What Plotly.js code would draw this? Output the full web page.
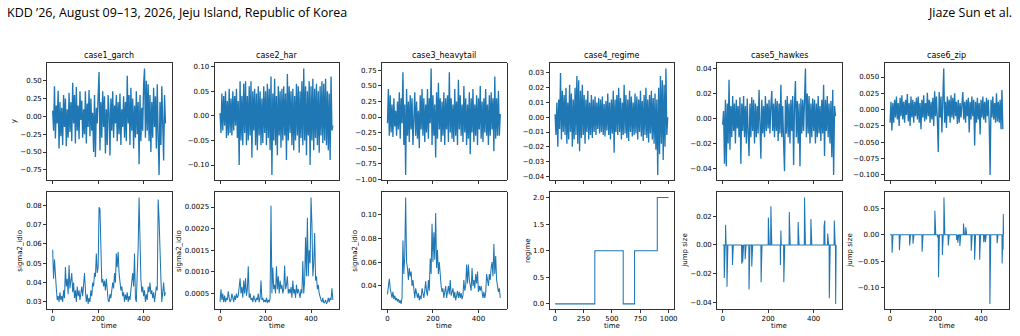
<!DOCTYPE html>
<html>
<head>
<meta charset="utf-8">
<script src="https://cdn.plot.ly/plotly-3.0.1.min.js"></script>
<style>
  html, body { margin: 0; padding: 0; background: #fff; }
  #chart { width: 1020px; height: 336px; }
</style>
</head>
<body>
<div id="chart"></div>
<script>
// ---------- series (top row: observed y; bottom row: latent state) ----------
const caseNames = ["case1_garch", "case2_har", "case3_heavytail", "case4_regime", "case5_hawkes", "case6_zip"];
const seriesLength = 500;
const regimeLength = 1000;
const sampleStep = 4;        // y samples every 4 time steps
const regimeSampleStep = 8;  // case4 y samples every 8 time steps

const garchY = [
  0.08, -0.2, 0.42, -0.31, 0.15, -0.1, 0.36, -0.45, 0.2, -0.28,
  0.12, -0.4, 0.3, -0.15, 0.25, -0.42, 0.1, -0.3, 0.33, -0.22,
  0.2, -0.35, 0.47, -0.1, 0.3, -0.38, 0.41, -0.2, 0.15, -0.32,
  0.35, -0.05, 0.22, -0.3, 0.1, -0.25, 0.35, -0.38, 0.18, -0.15,
  0.37, -0.28, 0.25, -0.2, 0.05, -0.5, 0.3, -0.57, 0.12, -0.1,
  0.3, 0.62, -0.48, 0.2, -0.3, 0.35, -0.15, 0.28, -0.52, 0.1,
  -0.4, 0.3, 0.05, -0.55, 0.25, -0.2, 0.35, -0.3, 0.15, -0.1,
  0.3, -0.35, 0.2, -0.25, 0.32, -0.4, 0.1, -0.15, 0.28, -0.3,
  0.2, -0.35, 0.57, -0.1, 0.3, -0.4, 0.4, -0.2, 0.25, -0.45,
  0.15, -0.3, 0.35, -0.25, 0.2, -0.67, 0.3, -0.35, 0.12, -0.2,
  0.45, 0.67, -0.3, 0.5, -0.2, 0.45, -0.35, 0.3, -0.5, 0.2,
  -0.3, 0.4, -0.15, 0.28, -0.45, 0.45, -0.3, -0.82, 0.2, -0.4,
  0.42, -0.2, -0.62, 0.3, -0.1
];
const harY = [
  0.005, -0.035, 0.045, -0.03, 0.04, -0.02, 0.05, -0.045, 0.03, -0.04,
  0.055, -0.035, 0.035, -0.04, 0.05, -0.03, 0.04, -0.02, 0.055, -0.045,
  0.03, -0.1, 0.07, -0.05, 0.04, -0.06, 0.065, -0.035, 0.07, -0.06,
  0.04, -0.05, 0.06, -0.04, 0.07, -0.085, 0.05, -0.03, 0.055, -0.06,
  0.045, -0.07, 0.06, -0.04, 0.05, -0.06, 0.035, -0.055, 0.06, -0.035,
  0.05, -0.06, 0.065, -0.045, 0.055, -0.07, 0.08, -0.12, 0.045, -0.05,
  0.075, -0.06, 0.04, -0.08, 0.06, -0.04, 0.05, -0.065, 0.055, -0.05,
  0.06, -0.04, 0.045, -0.09, 0.085, -0.05, 0.06, -0.035, 0.05, -0.06,
  0.055, -0.07, 0.04, -0.05, 0.065, -0.04, 0.06, -0.075, 0.05, -0.045,
  0.07, -0.06, 0.096, -0.05, 0.06, -0.08, 0.05, -0.04, 0.07, -0.1,
  0.06, -0.05, 0.075, -0.07, 0.055, -0.045, 0.065, -0.06, 0.05, -0.075,
  0.06, -0.04, 0.07, -0.055, 0.065, -0.05, 0.075, -0.06, 0.05, -0.07,
  0.045, -0.09, 0.08, -0.03, -0.02
];
const heavytailY = [
  -0.1, 0.45, -0.3, 0.35, -0.25, 0.2, -0.32, 0.3, -0.15, 0.1,
  -0.3, 0.25, -0.2, 0.4, -0.35, 0.3, -0.1, 0.72, -0.45, 0.2,
  -0.93, 0.45, -0.3, 0.25, -0.4, 0.35, -0.2, 0.3, -0.45, 0.15,
  0.4, -0.3, 0.25, -0.35, 0.1, -0.5, 0.35, -0.2, 0.45, -0.3,
  0.3, -0.4, 0.2, -0.25, 0.45, -0.35, 0.3, -0.1, 0.78, -0.45,
  0.35, -0.3, 0.2, -0.65, 0.4, -0.35, 0.55, -0.2, 0.3, -0.4,
  0.25, -0.3, 0.4, -0.45, 0.3, -0.2, 0.35, -0.4, 0.72, -0.25,
  0.3, -0.35, 0.2, -0.4, 0.45, -0.3, 0.25, -0.45, 0.6, -0.2,
  0.35, -0.3, 0.2, -0.4, 0.5, -0.25, 0.3, -0.45, 0.2, -0.35,
  0.4, -0.6, 0.3, -0.25, 0.45, -0.4, 0.2, -0.3, 0.35, -0.45,
  0.3, -0.2, 0.5, -0.35, 0.25, -0.4, 0.3, -0.25, 0.45, -0.3,
  0.2, -0.45, 0.35, -0.3, 0.4, -0.2, 0.3, -0.55, 0.65, -0.35,
  0.3, -0.3, 0.42, -0.3, 0.05
];
const regimeY = [
  0.002, -0.012, 0.01, -0.02, 0.012, -0.008, 0.03, -0.015, 0.018, -0.01,
  0.015, -0.012, 0.02, -0.018, 0.01, -0.015, 0.022, -0.01, 0.016, -0.02,
  0.012, -0.015, 0.02, -0.012, 0.028, -0.018, 0.025, -0.023, 0.018, -0.014,
  0.022, -0.012, 0.015, -0.018, 0.012, -0.01, 0.018, -0.015, 0.01, -0.012,
  0.015, -0.014, 0.012, -0.01, 0.014, -0.012, 0.01, -0.008, 0.013, -0.011,
  0.012, -0.01, 0.014, -0.012, 0.009, -0.013, 0.011, -0.009, 0.016, -0.012,
  0.01, -0.015, 0.012, -0.011, 0.018, -0.024, 0.012, -0.01, 0.015, -0.012,
  0.02, -0.01, 0.013, -0.015, 0.01, -0.012, 0.022, -0.011, 0.015, -0.014,
  0.012, -0.016, 0.018, -0.01, 0.014, -0.013, 0.01, -0.012, 0.016, -0.011,
  0.014, -0.015, 0.012, -0.01, 0.018, -0.013, 0.011, -0.016, 0.015, -0.012,
  0.02, -0.014, 0.012, -0.017, 0.015, -0.011, 0.018, -0.015, 0.013, -0.018,
  0.016, -0.022, 0.012, -0.039, 0.02, -0.025, 0.028, -0.018, 0.025, -0.029,
  0.022, -0.02, 0.033, -0.012, 0.0
];
const hawkesY = [
  -0.005, 0.006, -0.036, 0.015, -0.038, 0.012, -0.02, 0.031, -0.025, 0.01,
  -0.015, 0.018, -0.01, 0.012, -0.02, 0.015, -0.008, 0.01, -0.015, 0.017,
  -0.036, 0.012, -0.01, 0.018, -0.015, 0.01, -0.02, 0.016, -0.012, -0.03,
  0.012, -0.015, 0.017, -0.01, 0.015, -0.02, 0.012, -0.015, 0.01, -0.012,
  0.023, -0.01, -0.032, 0.015, -0.012, 0.01, -0.015, 0.018, -0.01, 0.012,
  -0.008, 0.015, -0.012, 0.01, 0.022, -0.01, 0.012, -0.015, 0.016, -0.01,
  0.014, -0.018, 0.012, -0.012, 0.027, -0.015, 0.01, -0.02, -0.042, 0.015,
  -0.012, 0.018, -0.015, 0.012, -0.02, 0.015, -0.01, 0.018, -0.037, 0.012,
  0.03, -0.015, 0.014, -0.02, 0.012, -0.038, 0.016, -0.012, 0.015, -0.01,
  0.018, 0.04, -0.015, 0.02, -0.012, 0.018, -0.02, 0.012, -0.015, 0.016,
  -0.01, 0.015, -0.02, 0.012, -0.015, 0.018, -0.012, 0.01, -0.018, 0.015,
  -0.012, 0.027, -0.03, 0.015, -0.01, 0.018, -0.015, 0.012, -0.02, 0.014,
  -0.031, 0.023, -0.045, 0.01, 0.002
];
const zipY = [
  -0.02, 0.012, -0.032, 0.01, -0.02, 0.015, -0.012, 0.02, -0.015, 0.01,
  -0.025, 0.018, -0.01, 0.022, -0.015, 0.012, -0.02, 0.015, -0.008, 0.024,
  -0.018, 0.01, -0.025, 0.02, -0.012, 0.015, -0.02, 0.012, -0.01, 0.018,
  -0.015, 0.02, -0.02, 0.01, -0.03, 0.015, -0.012, 0.022, -0.018, 0.01,
  -0.015, 0.026, -0.01, 0.015, -0.02, 0.012, -0.015, 0.018, -0.025, 0.028,
  -0.01, 0.02, -0.015, -0.065, 0.027, -0.012, 0.02, -0.035, 0.015, 0.063,
  -0.02, 0.012, -0.028, 0.02, -0.01, 0.015, -0.02, 0.022, -0.012, 0.018,
  -0.015, 0.025, -0.01, 0.012, -0.022, 0.015, -0.02, 0.01, -0.012, 0.02,
  0.027, -0.015, 0.012, -0.02, 0.015, -0.01, 0.018, -0.035, 0.012, -0.015,
  0.02, -0.01, 0.015, -0.055, 0.012, -0.02, 0.018, -0.015, 0.01, -0.038,
  0.015, -0.012, 0.02, -0.015, 0.012, -0.02, 0.018, -0.01, 0.015, -0.02,
  -0.1, 0.015, -0.012, 0.02, -0.015, 0.01, -0.02, 0.025, -0.018, 0.012,
  -0.02, 0.015, -0.03, 0.03, -0.03
];

const garchSigma2 = [
  0.057, 0.042, 0.052, 0.04, 0.037, 0.031, 0.033, 0.03, 0.035, 0.031,
  0.033, 0.03, 0.036, 0.032, 0.048, 0.038, 0.042, 0.034, 0.049, 0.037,
  0.041, 0.045, 0.035, 0.04, 0.032, 0.036, 0.03, 0.038, 0.033, 0.036,
  0.031, 0.034, 0.038, 0.033, 0.042, 0.045, 0.036, 0.03, 0.034, 0.029,
  0.032, 0.03, 0.036, 0.033, 0.04, 0.038, 0.045, 0.043, 0.055, 0.045,
  0.048, 0.079, 0.078, 0.05, 0.04, 0.042, 0.038, 0.041, 0.036, 0.042,
  0.035, 0.031, 0.03, 0.034, 0.032, 0.036, 0.04, 0.037, 0.045, 0.04,
  0.055, 0.048, 0.056, 0.045, 0.04, 0.036, 0.038, 0.033, 0.035, 0.03,
  0.034, 0.031, 0.035, 0.03, 0.033, 0.031, 0.036, 0.04, 0.045, 0.038,
  0.055, 0.032, 0.03, 0.045, 0.058, 0.084, 0.05, 0.042, 0.035, 0.038,
  0.033, 0.036, 0.03, 0.034, 0.031, 0.038, 0.035, 0.04, 0.034, 0.036,
  0.032, 0.035, 0.03, 0.034, 0.038, 0.036, 0.083, 0.073, 0.05, 0.042,
  0.03, 0.035, 0.04, 0.033, 0.035
];
const harSigma2 = [
  0.0003, 0.0006, 0.00035, 0.0005, 0.0003, 0.00045, 0.0003, 0.0004, 0.00035, 0.00055,
  0.0004, 0.0003, 0.00035, 0.0005, 0.0004, 0.0003, 0.00045, 0.00035, 0.0005, 0.0004,
  0.00045, 0.0006, 0.00085, 0.0005, 0.00065, 0.0004, 0.0008, 0.0005, 0.00085, 0.00045,
  0.0006, 0.00113, 0.0004, 0.0005, 0.00035, 0.0004, 0.0003, 0.00045, 0.00035, 0.0003,
  0.0004, 0.00035, 0.0005, 0.0003, 0.0004, 0.0008, 0.00035, 0.0004, 0.0003, 0.00035,
  0.0003, 0.0004, 0.00028, 0.00035, 0.0003, 0.0004, 0.00253, 0.0005, 0.0011, 0.0006,
  0.0007, 0.0005, 0.00113, 0.0006, 0.0009, 0.0005, 0.0008, 0.0006, 0.0007, 0.0005,
  0.0006, 0.00115, 0.0006, 0.0007, 0.0009, 0.0005, 0.0006, 0.0005, 0.00065, 0.0004,
  0.0008, 0.0005, 0.0006, 0.0004, 0.0007, 0.0005, 0.0006, 0.00045, 0.0004, 0.0006,
  0.0005, 0.00125, 0.0005, 0.0008, 0.0018, 0.0009, 0.00225, 0.0009, 0.0015, 0.0012,
  0.00272, 0.0021, 0.0009, 0.0012, 0.0019, 0.0008, 0.0009, 0.0006, 0.0007, 0.0005,
  0.0004, 0.00035, 0.0003, 0.0004, 0.00028, 0.0003, 0.00035, 0.00026, 0.0003, 0.0004,
  0.0003, 0.0004, 0.00035, 0.00062, 0.00035
];
const heavytailSigma2 = [
  0.033, 0.04, 0.046, 0.038, 0.035, 0.03, 0.035, 0.029, 0.032, 0.028,
  0.03, 0.027, 0.029, 0.026, 0.028, 0.025, 0.03, 0.078, 0.05, 0.065,
  0.114, 0.06, 0.055, 0.045, 0.055, 0.048, 0.052, 0.04, 0.045, 0.035,
  0.03, 0.038, 0.035, 0.03, 0.034, 0.028, 0.032, 0.029, 0.038, 0.035,
  0.03, 0.036, 0.044, 0.035, 0.032, 0.045, 0.036, 0.063, 0.05, 0.092,
  0.06, 0.085, 0.062, 0.101, 0.055, 0.07, 0.05, 0.06, 0.045, 0.04,
  0.035, 0.038, 0.03, 0.034, 0.04, 0.03, 0.036, 0.04, 0.033, 0.045,
  0.032, 0.036, 0.038, 0.03, 0.035, 0.028, 0.032, 0.036, 0.03, 0.035,
  0.03, 0.034, 0.029, 0.032, 0.045, 0.036, 0.04, 0.058, 0.042, 0.058,
  0.045, 0.04, 0.036, 0.055, 0.04, 0.045, 0.038, 0.05, 0.042, 0.052,
  0.035, 0.04, 0.036, 0.04, 0.032, 0.03, 0.035, 0.03, 0.034, 0.05,
  0.045, 0.04, 0.05, 0.045, 0.055, 0.06, 0.048, 0.075, 0.05, 0.065,
  0.045, 0.04, 0.035, 0.038, 0.03
];

// regime path: level held from each start until the next one
const regimeStarts = [0, 350, 600, 700, 900];
const regimeLevels = [0, 1, 0, 1, 2];

// jump events (time index, jump size); zero elsewhere
const hawkesJumpTimes = [7, 13, 19, 43, 84, 88, 99, 116, 128, 169, 201, 212, 254, 256, 269, 293, 332, 360, 388, 446, 449, 462, 469, 491, 497];
const hawkesJumpSizes = [-0.023, 0.014, -0.029, -0.014, -0.013, -0.012, -0.01, -0.031, -0.015, -0.026, 0.019, 0.027, -0.014, 0.01, -0.026, 0.023, 0.016, 0.033, 0.018, 0.013, 0.017, 0.008, -0.037, 0.017, -0.041];
const zipJumpTimes = [9, 41, 86, 101, 141, 197, 209, 213, 230, 237, 256, 293, 298, 307, 323, 333, 357, 372, 394, 412, 419, 439, 471, 493, 497, 498];
const zipJumpSizes = [-0.034, -0.029, -0.02, -0.017, -0.032, 0.045, -0.005, -0.08, -0.038, 0.07, -0.02, -0.01, -0.015, -0.021, 0.021, 0.014, -0.03, -0.047, -0.047, -0.014, -0.014, -0.13, -0.016, -0.054, -0.028, 0.039];

// y tick labels for each panel
const yTicks = [
  [-0.75, -0.5, -0.25, 0, 0.25, 0.5],
  [-0.10, -0.05, 0, 0.05, 0.10],
  [-1.0, -0.75, -0.5, -0.25, 0, 0.25, 0.5, 0.75],
  [-0.04, -0.03, -0.02, -0.01, 0, 0.01, 0.02, 0.03],
  [-0.04, -0.02, 0, 0.02, 0.04],
  [-0.1, -0.075, -0.05, -0.025, 0, 0.025, 0.05],
  [0.03, 0.04, 0.05, 0.06, 0.07, 0.08],
  [0.0005, 0.001, 0.0015, 0.002, 0.0025],
  [0.04, 0.06, 0.08, 0.10],
  [0, 0.5, 1.0, 1.5, 2.0],
  [-0.04, -0.02, 0, 0.02],
  [-0.10, -0.05, 0, 0.05]
];
const yTickDecimals = [2, 2, 2, 2, 2, 3, 2, 4, 2, 1, 2, 2];
const timeTicks = [0, 200, 400];
const regimeTimeTicks = [0, 250, 500, 750, 1000];
const yLabels = ["y", "", "", "", "", "", "sigma2_idio", "sigma2_idio", "sigma2_idio", "regime", "jump size", "jump size"];

// ---------- build traces ----------
function sampled(values, step) {
  return { x: values.map((_, i) => i * step), y: values };
}
function jumpSeries(times, sizes, n) {
  const y = new Array(n).fill(0);
  times.forEach((t, k) => { y[t] = sizes[k]; });
  return { x: y.map((_, i) => i), y };
}
function regimeSeries(starts, levels, n) {
  return { x: starts.concat([n - 1]), y: levels.concat([levels[levels.length - 1]]), shape: 'hv' };
}

const panels = [
  sampled(garchY, sampleStep),
  sampled(harY, sampleStep),
  sampled(heavytailY, sampleStep),
  sampled(regimeY, regimeSampleStep),
  sampled(hawkesY, sampleStep),
  sampled(zipY, sampleStep),
  sampled(garchSigma2, sampleStep),
  sampled(harSigma2, sampleStep),
  sampled(heavytailSigma2, sampleStep),
  regimeSeries(regimeStarts, regimeLevels, regimeLength),
  jumpSeries(hawkesJumpTimes, hawkesJumpSizes, seriesLength),
  jumpSeries(zipJumpTimes, zipJumpSizes, seriesLength)
];

// ---------- layout geometry (pixels) ----------
const W = 1020, H = 336;
const colLeft = [47, 214.4, 381.8, 549.4, 717, 884.4];
const colWidth = 124.8;
const rowTop = [63.2, 192.2];
const rowHeight = 117;
const BLUE = '#1f77b4';
const FONT = 'DejaVu Sans';
const HEADER_FONT = 'Open Sans';

const fmt = (v, d) => v.toFixed(d).replace('-', '\u2212');
const padRange = (lo, hi) => { const p = (hi - lo) * 0.05; return [lo - p, hi + p]; };

const traces = [];
const layout = {
  width: W, height: H,
  margin: { l: 0, r: 0, t: 0, b: 0 },
  paper_bgcolor: '#ffffff', plot_bgcolor: '#ffffff',
  showlegend: false,
  font: { family: FONT, size: 7, color: '#000000' },
  annotations: []
};

panels.forEach((p, i) => {
  const n = i + 1;
  const col = i % 6, row = Math.floor(i / 6);
  const isRegimeCol = col === 3;
  const len = isRegimeCol ? regimeLength : seriesLength;
  const x0 = colLeft[col], y0 = rowTop[row];

  traces.push({
    type: 'scatter', mode: 'lines',
    x: p.x, y: p.y,
    xaxis: 'x' + n, yaxis: 'y' + n,
    line: { color: BLUE, width: row === 0 ? 1.35 : 1.05, shape: p.shape || 'linear' },
    hoverinfo: 'skip'
  });

  const yr = padRange(Math.min(...p.y), Math.max(...p.y));
  const xt = isRegimeCol ? regimeTimeTicks : timeTicks;
  const axBase = {
    showgrid: false, zeroline: false,
    showline: true, mirror: true, linecolor: '#000000', linewidth: 0.8,
    ticks: 'outside', ticklen: 3, tickwidth: 0.8, tickcolor: '#000000',
    tickfont: { family: FONT, size: 7, color: '#000000' },
    automargin: false, fixedrange: true
  };
  layout['xaxis' + n] = Object.assign({}, axBase, {
    domain: [x0 / W, (x0 + colWidth) / W],
    anchor: 'y' + n,
    range: [-0.05 * (len - 1), 1.05 * (len - 1)],
    tickmode: 'array', tickvals: xt, ticktext: xt.map(String),
    showticklabels: row === 1
  });
  layout['yaxis' + n] = Object.assign({}, axBase, {
    domain: [1 - (y0 + rowHeight) / H, 1 - y0 / H],
    anchor: 'x' + n,
    range: yr,
    tickmode: 'array', tickvals: yTicks[i],
    ticktext: yTicks[i].map(v => fmt(v, yTickDecimals[i]))
  });

  if (row === 0) {
    layout.annotations.push({
      text: caseNames[col], xref: 'paper', yref: 'paper',
      x: (x0 + colWidth / 2) / W, y: 1 - 56 / H,
      xanchor: 'center', yanchor: 'middle', showarrow: false,
      font: { family: FONT, size: 8, color: '#000000' }
    });
  } else {
    layout.annotations.push({
      text: 'time', xref: 'paper', yref: 'paper',
      x: (x0 + colWidth / 2) / W, y: 1 - 326 / H,
      xanchor: 'center', yanchor: 'middle', showarrow: false,
      font: { family: FONT, size: 7, color: '#000000' }
    });
  }
});

// y-axis titles, placed beside the tick labels
const yLabelX = [13.5, 0, 0, 0, 0, 0, 20, 178.3, 355, 527.3, 685, 850];
yLabels.forEach((t, i) => {
  if (!t) return;
  const row = Math.floor(i / 6);
  layout.annotations.push({
    text: t, xref: 'paper', yref: 'paper',
    x: yLabelX[i] / W, y: 1 - (rowTop[row] + rowHeight / 2) / H,
    xanchor: 'center', yanchor: 'middle', textangle: -90, showarrow: false,
    font: { family: FONT, size: 7, color: '#000000' }
  });
});

// running header
layout.annotations.push({
  text: 'KDD \u201926, August 09\u201313, 2026, Jeju Island, Republic of Korea',
  xref: 'paper', yref: 'paper', x: 5 / W, y: 1 - 13 / H,
  xanchor: 'left', yanchor: 'middle', showarrow: false,
  font: { family: HEADER_FONT, size: 12.5, color: '#000000' }
});
layout.annotations.push({
  text: 'Jiaze Sun et al.',
  xref: 'paper', yref: 'paper', x: 1014 / W, y: 1 - 13 / H,
  xanchor: 'right', yanchor: 'middle', showarrow: false,
  font: { family: HEADER_FONT, size: 12.5, color: '#000000' }
});

Plotly.newPlot('chart', traces, layout, { staticPlot: true, displayModeBar: false });
</script>
</body>
</html>
